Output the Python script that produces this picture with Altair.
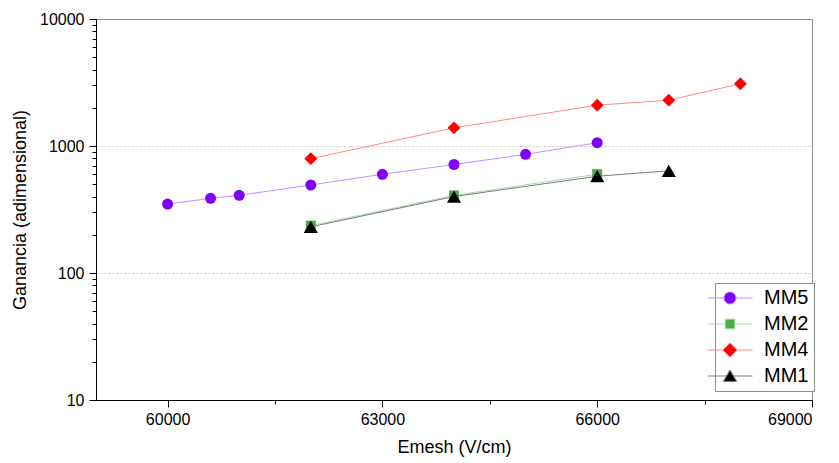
import altair as alt
import pandas as pd

# ---- data ----
series_order = ["MM5", "MM2", "MM4", "MM1"]

mm5_x = [60000, 60600, 61000, 62000, 63000, 64000, 65000, 66000]
mm5_y = [349, 387, 409, 493, 599, 715, 860, 1061]

mm2_x = [62000, 64000, 66000]
mm2_y = [236, 408, 600]

mm4_x = [62000, 64000, 66000, 67000, 68000]
mm4_y = [795, 1390, 2096, 2295, 3090]

mm1_x = [62000, 64000, 66000, 67000]
mm1_y = [231, 400, 578, 638]

marker_colors = ["#8000ff", "#4aae48", "#ff0000", "#000000"]
line_colors = ["#c68cff", "#a9d9a6", "#ff8a8a", "#7a7a7a"]
marker_shapes = ["circle", "square", "diamond", "triangle-up"]
marker_sizes = [121, 100, 165, 200]

legend_paths = [
    "M-3.75,0H-1M1,0H3.75M1,0A1,1,0,1,1,-1,0A1,1,0,1,1,1,0Z",
    "M-3.75,0H-0.8M0.8,0H3.75M-0.8,-0.8H0.8V0.8H-0.8Z",
    "M-3.75,0H-1.2M1.2,0H3.75M0,-1.2L1.2,0L0,1.2L-1.2,0Z",
    "M-3.75,0H-0.6M0.6,0H3.75M0,-1L1.1,0.9H-1.1Z",
]

x_ticks = [60000, 61500, 63000, 64500, 66000, 67500, 69000]
y_ticks = [m * d for d in (10, 100, 1000) for m in range(1, 10)] + [10000]

rows = []
for name, xs, ys in [("MM5", mm5_x, mm5_y), ("MM2", mm2_x, mm2_y),
                     ("MM4", mm4_x, mm4_y), ("MM1", mm1_x, mm1_y)]:
    for xv, yv in zip(xs, ys):
        rows.append({"serie": name, "emesh": xv, "ganancia": yv})
df = pd.DataFrame(rows)

FONT = "Liberation Sans"

x_enc = alt.X(
    "emesh:Q",
    scale=alt.Scale(domain=[59000, 69000], nice=False, zero=False),
    axis=alt.Axis(
        title="Emesh (V/cm)",
        values=x_ticks,
        format="d",
        labelExpr="datum.value % 3000 == 0 ? datum.label : ''",
        tickSize={"condition": {"test": "datum.value % 3000 == 0", "value": 7}, "value": 4},
        grid=False,
        labelPadding=4,
        titlePadding=11,
    ),
)
y_enc = alt.Y(
    "ganancia:Q",
    scale=alt.Scale(type="log", domain=[10, 10000], nice=False),
    axis=alt.Axis(
        title="Ganancia (adimensional)",
        values=y_ticks,
        format="d",
        labelExpr="indexof([10,100,1000,10000], datum.value) >= 0 ? datum.label : ''",
        tickSize={"condition": {"test": "indexof([10,100,1000,10000], datum.value) >= 0", "value": 7}, "value": 4},
        grid=True,
        gridColor="#cfcfcf",
        gridDash=[2, 2],
        gridOpacity={"condition": {"test": "indexof([100,1000], datum.value) >= 0", "value": 1}, "value": 0},
        labelPadding=5,
        titlePadding=10,
    ),
)

stroke_scale = alt.Scale(domain=series_order, range=line_colors)

shared_legend = alt.Legend(
    title=None,
    orient="none",
    legendX=619,
    legendY=264,
    symbolSize=144,
    symbolStrokeWidth=1,
    symbolOpacity=1,
    labelFont=FONT,
    labelFontSize=20,
    labelColor="black",
    labelOffset=24,
    rowPadding=6,
    padding=5,
    strokeColor="#8c8c8c",
    fillColor="white",
)

lines = alt.Chart(df).mark_line(strokeWidth=1).encode(
    x=x_enc,
    y=y_enc,
    stroke=alt.Stroke("serie:N", scale=stroke_scale, legend=shared_legend),
    detail="serie:N",
)

point_layers = []
for name, col, shp, sz in zip(series_order, marker_colors, marker_shapes, marker_sizes):
    point_layers.append(
        alt.Chart(df)
        .transform_filter(alt.datum.serie == name)
        .mark_point(shape=shp, filled=True, size=sz, color=col, opacity=1, strokeWidth=0)
        .encode(x="emesh:Q", y="ganancia:Q")
    )

legend_layer = alt.Chart(df).mark_point(filled=True, opacity=0, strokeWidth=1).encode(
    x="emesh:Q",
    y="ganancia:Q",
    fill=alt.Fill(
        "serie:N",
        scale=alt.Scale(domain=series_order, range=marker_colors),
        legend=shared_legend,
    ),
    stroke=alt.Stroke("serie:N", scale=stroke_scale, legend=shared_legend),
    shape=alt.Shape("serie:N", scale=alt.Scale(domain=series_order, range=legend_paths),
                    legend=shared_legend),
)

chart = (
    alt.layer(lines, *point_layers, legend_layer)
    .properties(
        width=716,
        height=381,
        autosize="none",
        padding={"left": 88, "top": 11, "right": 15, "bottom": 58},
    )
    .configure_view(stroke="#8a8a8a", strokeWidth=1)
    .configure_axis(
        domainColor="black",
        tickColor="black",
        labelFont=FONT,
        labelFontSize=16,
        labelColor="black",
        titleFont=FONT,
        titleFontSize=18,
        titleFontWeight="normal",
        titleColor="black",
    )
)

chart.save("out.html", embed_options={"renderer": "svg", "actions": False})
